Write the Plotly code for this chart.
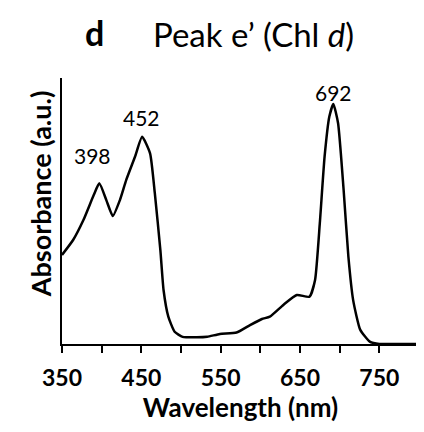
import plotly.graph_objects as go

# Absorbance spectrum of peak e' (Chl d)
wavelength = [350, 364, 377, 390, 397, 406, 414, 423, 431, 442, 451, 461, 467, 474,
              478, 484, 492, 502, 520, 533, 549, 570, 587, 602, 612, 629, 646, 662,
              669, 675, 681, 687, 692, 698, 705, 711, 717, 726, 738, 750, 770, 800]
absorbance = [0.335, 0.391, 0.466, 0.56, 0.604, 0.54, 0.481, 0.541, 0.617, 0.704,
              0.779, 0.717, 0.567, 0.353, 0.203, 0.103, 0.046, 0.027, 0.025, 0.027,
              0.038, 0.043, 0.071, 0.094, 0.103, 0.147, 0.184, 0.178, 0.241, 0.455,
              0.704, 0.855, 0.902, 0.83, 0.579, 0.328, 0.165, 0.053, 0.009, 0.0,
              0.0, 0.0]

peak_labels = ["398", "452", "692"]
peak_x = [389, 449.6, 691.7]
peak_y = [0.71, 0.85, 0.944]

tick_vals = list(range(350, 801, 50))
tick_text = ["<b>%d</b>" % v if (v - 350) % 100 == 0 else "" for v in tick_vals]

FONT = "Lato"

fig = go.Figure()
fig.add_trace(go.Scatter(
    x=wavelength, y=absorbance, mode="lines",
    line=dict(color="black", width=2.5, shape="spline", smoothing=0.5),
    hoverinfo="skip", showlegend=False,
))

for label, px_, py_ in zip(peak_labels, peak_x, peak_y):
    fig.add_annotation(x=px_, y=py_, text=label, showarrow=False,
                       xanchor="center", yanchor="middle",
                       font=dict(family=FONT, size=21, color="black"))

# panel letter + title, placed relative to the plot area
fig.add_annotation(xref="paper", yref="paper", x=0.0924, y=1.171, text="<b>d</b>",
                   xanchor="center", yanchor="middle", showarrow=False,
                   font=dict(family=FONT, size=34, color="black"))
fig.add_annotation(xref="paper", yref="paper", x=0.537, y=1.165,
                   text="Peak e’ (Chl <i>d</i>)", xanchor="center", yanchor="middle",
                   showarrow=False, font=dict(family=FONT, size=33, color="black"))
fig.add_annotation(xref="paper", yref="paper", x=-0.058, y=0.564,
                   text="<b>Absorbance (a.u.)</b>", textangle=-90, showarrow=False,
                   xanchor="center", yanchor="middle",
                   font=dict(family=FONT, size=27, color="black"))

# the page body has an 8px margin, so the figure is shifted by 8px
fig.update_layout(
    width=416, height=424,
    margin=dict(l=54, r=5, t=70, b=88, autoexpand=False),
    paper_bgcolor="white", plot_bgcolor="white",
    font=dict(family=FONT, color="black"),
    xaxis=dict(
        range=[350, 800], tickmode="array", tickvals=tick_vals, ticktext=tick_text,
        ticks="outside", ticklen=7, tickwidth=2, tickcolor="black", automargin=False,
        ticklabelstandoff=5,
        showline=True, linecolor="black", linewidth=2, showgrid=False, zeroline=False,
        tickfont=dict(family=FONT, size=23, color="black"),
        title=dict(text="<b>Wavelength (nm)</b>", standoff=9,
                   font=dict(family=FONT, size=26, color="black")),
    ),
    yaxis=dict(
        range=[0, 1], showticklabels=False, ticks="", showline=True, automargin=False,
        linecolor="black", linewidth=2, showgrid=False, zeroline=False,
    ),
)

fig.write_html("out.html")
